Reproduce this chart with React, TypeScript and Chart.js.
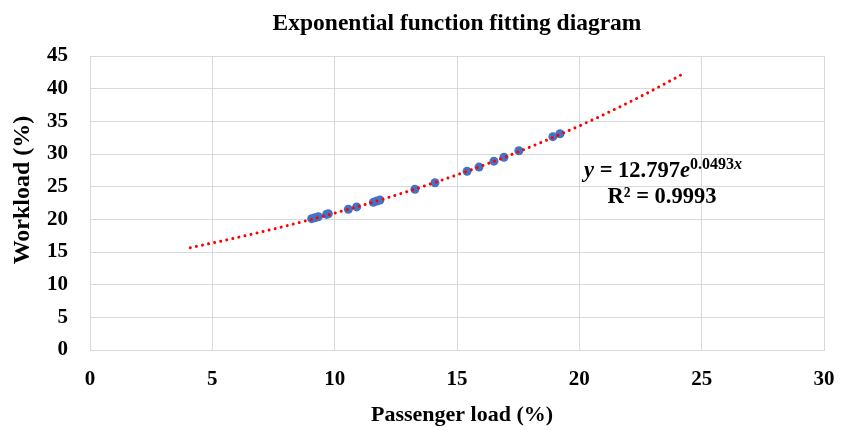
import React, { useEffect, useRef } from "react";
import { Chart, registerables } from "chart.js";

Chart.register(...registerables);

// ---- data ----
const passengerLoad = [9.06, 9.19, 9.33, 9.67, 9.74, 10.56, 10.9, 11.58, 11.72, 11.85, 13.28, 14.1, 15.41, 15.9, 16.51, 16.92, 17.53, 18.92, 19.21];
const workload = [20.1, 20.25, 20.4, 20.75, 20.85, 21.55, 21.9, 22.6, 22.8, 22.95, 24.6, 25.6, 27.35, 28.0, 28.9, 29.5, 30.5, 32.65, 33.1];

// exponential trendline as printed on the chart: y = 12.797 e^(0.0493 x)
const FIT_A = 12.797;
const FIT_B = 0.0493;
const TREND_RANGE = [4.1, 24.2];

const xTicks = [0, 5, 10, 15, 20, 25, 30];
const yTicks = [0, 5, 10, 15, 20, 25, 30, 35, 40, 45];

const TITLE = "Exponential function fitting diagram";
const X_TITLE = "Passenger load (%)";
const Y_TITLE = "Workload (%)";
const R2_TEXT = "R² = 0.9993";

const SERIF = '"Liberation Serif", "Times New Roman", serif';

function trendPoints() {
  const pts: { x: number; y: number }[] = [];
  const n = 100;
  for (let i = 0; i <= n; i++) {
    const x = TREND_RANGE[0] + ((TREND_RANGE[1] - TREND_RANGE[0]) * i) / n;
    pts.push({ x, y: FIT_A * Math.exp(FIT_B * x) });
  }
  return pts;
}

const textPlugin = {
  id: "texts",
  afterDraw(chart: any) {
    const ctx: CanvasRenderingContext2D = chart.ctx;
    const { left, right } = chart.chartArea;
    ctx.save();
    ctx.fillStyle = "#000";
    ctx.textBaseline = "alphabetic";

    // title
    ctx.font = `bold 23.5px ${SERIF}`;
    ctx.textAlign = "center";
    ctx.fillText(TITLE, (left + right) / 2, 30);

    // x title
    ctx.font = `bold 22px ${SERIF}`;
    ctx.fillText(X_TITLE, (left + right) / 2 + 5, 421);

    // y title
    ctx.save();
    ctx.translate(29, 190);
    ctx.rotate(-Math.PI / 2);
    ctx.font = `bold 24px ${SERIF}`;
    ctx.textAlign = "center";
    ctx.fillText(Y_TITLE, 0, 0);
    ctx.restore();

    // equation
    const cx = 663;
    const mainF = `bold 22.5px ${SERIF}`;
    const mainI = `bold italic 22.5px ${SERIF}`;
    const supF = `bold 16px ${SERIF}`;
    const supI = `bold italic 16px ${SERIF}`;
    const segs: { t: string; f: string; dy: number }[] = [
      { t: "y", f: mainI, dy: 0 },
      { t: " = 12.797", f: mainF, dy: 0 },
      { t: "e", f: mainI, dy: 0 },
      { t: "0.0493", f: supF, dy: -8 },
      { t: "x", f: supI, dy: -8 },
    ];
    ctx.textAlign = "left";
    let total = 0;
    for (const s of segs) {
      ctx.font = s.f;
      total += ctx.measureText(s.t).width;
    }
    let x = cx - total / 2;
    const base1 = 177;
    for (const s of segs) {
      ctx.font = s.f;
      ctx.fillText(s.t, x, base1 + s.dy);
      x += ctx.measureText(s.t).width;
    }
    ctx.font = mainF;
    ctx.textAlign = "center";
    ctx.fillText(R2_TEXT, cx - 1, 203);

    ctx.restore();
  },
};

export default function App() {
  const ref = useRef<HTMLCanvasElement | null>(null);

  useEffect(() => {
    if (!ref.current) return;
    const chart = new Chart(ref.current, {
      type: "scatter",
      data: {
        datasets: [
          {
            label: "Trend",
            data: trendPoints(),
            showLine: true,
            borderColor: "#ff0000",
            borderWidth: 3,
            borderDash: [0.01, 6.2],
            borderCapStyle: "round",
            pointRadius: 0,
            pointHoverRadius: 0,
            tension: 0,
            order: 0,
          } as any,
          {
            label: "Data",
            data: passengerLoad.map((x, i) => ({ x, y: workload[i] })),
            pointRadius: 4.5,
            pointBackgroundColor: "#4472C4",
            pointBorderWidth: 0,
            borderColor: "#4472C4",
            showLine: false,
            order: 1,
          } as any,
        ],
      },
      options: {
        animation: false,
        responsive: false,
        maintainAspectRatio: false,
        layout: { padding: { left: 0, right: 19, top: 56, bottom: 0 } },
        plugins: {
          legend: { display: false },
          title: { display: false },
          tooltip: { enabled: false },
        },
        scales: {
          x: {
            type: "linear",
            min: 0,
            max: 30,
            afterFit(scale: any) {
              scale.height = 80;
              scale.paddingRight = 0;
              scale.paddingLeft = 0;
            },
            afterBuildTicks(scale: any) {
              scale.ticks = xTicks.map((v) => ({ value: v }));
            },
            ticks: {
              color: "#000",
              font: { family: SERIF, size: 21, weight: "bold" },
              padding: 17,
              maxRotation: 0,
            },
            grid: { color: "#d9d9d9", lineWidth: 1, drawTicks: false },
            border: { display: true, color: "#d9d9d9" },
          },
          y: {
            type: "linear",
            min: 0,
            max: 45,
            afterFit(scale: any) {
              scale.width = 90;
              scale.paddingTop = 0;
              scale.paddingBottom = 0;
            },
            afterBuildTicks(scale: any) {
              scale.ticks = yTicks.map((v) => ({ value: v }));
            },
            ticks: {
              color: "#000",
              font: { family: SERIF, size: 21, weight: "bold" },
              padding: 22,
            },
            grid: { color: "#d9d9d9", lineWidth: 1, drawTicks: false },
            border: { display: true, color: "#d9d9d9" },
          },
        },
      } as any,
      plugins: [textPlugin],
    });
    return () => chart.destroy();
  }, []);

  return (
    <div style={{ position: "fixed", left: 0, top: 0, width: 843, height: 430, background: "#fff" }}>
      <canvas ref={ref} width={843} height={430} style={{ width: 843, height: 430, display: "block" }} />
    </div>
  );
}
